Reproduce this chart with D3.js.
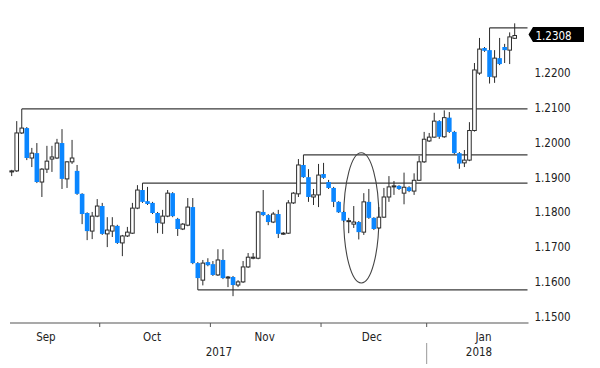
<!DOCTYPE html>
<html><head><meta charset="utf-8">
<script src="https://cdn.jsdelivr.net/npm/d3@7"></script>
<style>
html,body{margin:0;padding:0;background:#fff;}
svg{display:block;}
text{font-family:"Liberation Sans Narrow","DejaVu Sans Condensed","Liberation Sans",sans-serif;}
</style></head>
<body>
<svg id="chart" width="600" height="368"></svg>
<script>
// ---- data (EUR/USD daily candles, Sep 2017 – Jan 2018) ----
const opens = [1.1916,1.1919,1.2028,1.2042,1.1956,1.1970,1.1887,1.1924,1.1953,1.1956,
1.1999,1.1896,1.1945,1.1919,1.1853,1.1798,1.1746,1.1789,1.1818,1.1738,
1.1746,1.1761,1.1712,1.1732,1.1740,1.1812,1.1864,1.1832,1.1827,1.1798,
1.1769,1.1789,1.1855,1.1781,1.1752,1.1763,1.1815,1.1654,1.1605,1.1657,
1.1651,1.1620,1.1663,1.1611,1.1614,1.1591,1.1600,1.1643,1.1668,1.1668,
1.1801,1.1792,1.1772,1.1795,1.1738,1.1740,1.1827,1.1853,1.1936,1.1901,
1.1844,1.1850,1.1910,1.1887,1.1870,1.1830,1.1801,1.1775,1.1766,1.1772,
1.1743,1.1830,1.1784,1.1755,1.1786,1.1844,1.1873,1.1876,1.1855,1.1872,
1.1861,1.1892,1.1945,1.2005,1.2016,1.2062,1.2017,1.2072,1.2031,1.1970,
1.1942,1.1950,1.2035,1.2200,1.2272,1.2266,1.2189,1.2243,1.2275,1.2266,1.2300];
const highs = [1.1922,1.2062,1.2097,1.2045,1.1985,1.1999,1.1927,1.1991,1.1991,1.2011,
1.2039,1.1947,1.2008,1.1936,1.1855,1.1800,1.1801,1.1838,1.1827,1.1786,
1.1786,1.1764,1.1735,1.1758,1.1827,1.1878,1.1884,1.1873,1.1830,1.1801,
1.1807,1.1864,1.1858,1.1784,1.1769,1.1841,1.1841,1.1657,1.1663,1.1668,
1.1660,1.1694,1.1694,1.1617,1.1617,1.1605,1.1660,1.1683,1.1683,1.1804,
1.1864,1.1795,1.1801,1.1807,1.1743,1.1835,1.1858,1.1953,1.1965,1.1924,
1.1867,1.1939,1.1942,1.1893,1.1873,1.1832,1.1804,1.1784,1.1818,1.1775,
1.1855,1.1867,1.1786,1.1815,1.1870,1.1904,1.1890,1.1878,1.1914,1.1875,
1.1912,1.1962,1.2031,1.2028,1.2086,1.2065,1.2093,1.2088,1.2034,1.1973,
1.1979,1.2059,1.2229,1.2301,1.2275,1.2330,1.2266,1.2301,1.2284,1.2317,1.2343];
const lows = [1.1904,1.1916,1.2025,1.1950,1.1930,1.1884,1.1844,1.1913,1.1916,1.1953,
1.1867,1.1870,1.1939,1.1850,1.1766,1.1720,1.1723,1.1786,1.1735,1.1700,
1.1729,1.1709,1.1674,1.1729,1.1738,1.1809,1.1827,1.1821,1.1795,1.1740,
1.1738,1.1786,1.1786,1.1732,1.1749,1.1760,1.1651,1.1577,1.1590,1.1645,
1.1617,1.1617,1.1608,1.1585,1.1559,1.1585,1.1597,1.1640,1.1665,1.1665,
1.1789,1.1763,1.1769,1.1726,1.1735,1.1738,1.1824,1.1844,1.1899,1.1830,
1.1821,1.1815,1.1896,1.1867,1.1815,1.1798,1.1772,1.1740,1.1755,1.1722,
1.1735,1.1781,1.1749,1.1752,1.1784,1.1830,1.1850,1.1864,1.1823,1.1858,
1.1850,1.1890,1.1942,1.2002,1.2014,1.2011,1.2014,1.2028,1.1967,1.1925,
1.1930,1.1947,1.2032,1.2195,1.2261,1.2170,1.2172,1.2223,1.2229,1.2226,1.2298];
const closes = [1.1919,1.2028,1.2042,1.1956,1.1970,1.1887,1.1924,1.1947,1.1959,1.1999,
1.1896,1.1945,1.1956,1.1853,1.1795,1.1746,1.1789,1.1818,1.1738,1.1749,
1.1761,1.1712,1.1732,1.1743,1.1812,1.1864,1.1830,1.1824,1.1798,1.1769,
1.1789,1.1855,1.1789,1.1752,1.1766,1.1815,1.1654,1.1611,1.1654,1.1648,
1.1620,1.1663,1.1611,1.1614,1.1591,1.1600,1.1643,1.1671,1.1671,1.1801,
1.1792,1.1772,1.1795,1.1738,1.1740,1.1827,1.1855,1.1936,1.1901,1.1844,
1.1850,1.1907,1.1899,1.1870,1.1830,1.1800,1.1776,1.1776,1.1772,1.1743,
1.1830,1.1784,1.1752,1.1786,1.1844,1.1873,1.1876,1.1867,1.1872,1.1861,
1.1892,1.1945,1.2010,1.2016,1.2062,1.2017,1.2072,1.2031,1.1970,1.1940,
1.1950,1.2035,1.2209,1.2269,1.2264,1.2189,1.2243,1.2226,1.2266,1.2304,1.2308];

// y-axis tick values
const yTicks = [1.15,1.16,1.17,1.18,1.19,1.20,1.21,1.22];
// x-axis labels (positions in candle-index units)
const monthLabels = ["Sep","Oct","Nov","Dec","Jan"];
const monthCenters = [6.8,27.9,50.3,71.6,93.8];
const monthBoundaries = [17.5,39.5,61.5,82.5];
const yearLabels = ["2017","2018"];
const yearCenters = [41.2,92.9];
const yearBoundary = 82.5;
// horizontal support / resistance levels
const levelPrices = [1.2097,1.1965,1.1884,1.1577,1.2330];
const levelStarts = [2,58,26,37,95];
// highlighted ellipse (index / price units)
const ellipseCenter = [69.5,1.1784];
const ellipseHalf = [3.5,0.0187];

// ---- drawing ----
const svg = d3.select("#chart");
const n = closes.length;
const x = d3.scaleLinear().domain([0, n-1]).range([11.7, 514.7]);
const y = d3.scaleLinear().domain([1.15, 1.23]).range([316.7, 38.3]);
const plotRight = 527.5, axisY = 323;
const bw = 4.6;
const fs = 11.5;
const blue = "#0a86ff", dark = "#2b2b2b";
const candles = d3.range(n).map(i => ({i, o:opens[i], h:highs[i], l:lows[i], c:closes[i]}));

// levels
svg.append("g").selectAll("path").data(levelPrices).join("path")
  .attr("d", (p,k) => `M${x(levelStarts[k])},${y(p)}H${plotRight}`)
  .attr("stroke", "#3a3a3a").attr("stroke-width", 1.3).attr("fill","none");

// ellipse
svg.append("ellipse")
  .attr("cx", x(ellipseCenter[0])).attr("cy", y(ellipseCenter[1]))
  .attr("rx", x(ellipseCenter[0]+ellipseHalf[0]) - x(ellipseCenter[0]))
  .attr("ry", y(ellipseCenter[1]-ellipseHalf[1]) - y(ellipseCenter[1]))
  .attr("fill","none").attr("stroke","#444").attr("stroke-width",1.1);

// candles
const g = svg.append("g");
g.selectAll("line.wick").data(candles).join("line").attr("class","wick")
  .attr("x1", d => x(d.i)).attr("x2", d => x(d.i))
  .attr("y1", d => y(d.h)).attr("y2", d => y(d.l))
  .attr("stroke", dark).attr("stroke-width", 1);
g.selectAll("rect.down").data(candles.filter(d => d.c < d.o)).join("rect").attr("class","down")
  .attr("x", d => x(d.i) - bw/2).attr("width", bw)
  .attr("y", d => y(d.o)).attr("height", d => Math.max(1.5, y(d.c) - y(d.o)))
  .attr("fill", blue);
g.selectAll("rect.up").data(candles.filter(d => d.c >= d.o)).join("rect").attr("class","up")
  .attr("x", d => x(d.i) - bw/2 + 0.5).attr("width", bw - 1)
  .attr("y", d => y(d.c)).attr("height", d => Math.max(1, y(d.o) - y(d.c)))
  .attr("fill", "#fff").attr("stroke", dark).attr("stroke-width", 1);

// y axis (labels only)
const yAxis = d3.axisRight(y).tickValues(yTicks).tickFormat(d3.format(".4f")).tickSize(0).tickPadding(7);
const ya = svg.append("g").attr("transform", `translate(${plotRight},0)`).call(yAxis);
ya.select(".domain").remove();
ya.selectAll("text").attr("font-size", fs).attr("fill", "#222")
  .style("font-family", '"Liberation Sans Narrow","DejaVu Sans Condensed",sans-serif');

// last price label
const last = closes[n-1], ly = y(last);
svg.append("path")
  .attr("d", `M${plotRight+1},${ly-1}L${plotRight+5.5},${ly-8.5}H584V${ly+6.5}H${plotRight+5.5}Z`)
  .attr("fill", "#000");
svg.append("text").attr("x", plotRight+8).attr("y", ly).attr("dy","0.35em")
  .attr("font-size", fs).attr("fill","#fff").text(d3.format(".4f")(last));

// x axis
const xa = svg.append("g");
xa.append("line").attr("x1", 10).attr("x2", plotRight+1).attr("y1", axisY).attr("y2", axisY)
  .attr("stroke", "#555").attr("stroke-width", 1.2);
xa.selectAll("line.mt").data(monthBoundaries).join("line").attr("class","mt")
  .attr("x1", d => x(d)).attr("x2", d => x(d)).attr("y1", axisY).attr("y2", axisY+4)
  .attr("stroke", "#555");
xa.selectAll("text.m").data(monthLabels).join("text").attr("class","m")
  .attr("x", (d,k) => x(monthCenters[k])).attr("y", 337).attr("dy","0.35em")
  .attr("text-anchor","middle").attr("font-size", fs).attr("fill","#222").text(d => d);
xa.selectAll("text.yr").data(yearLabels).join("text").attr("class","yr")
  .attr("x", (d,k) => x(yearCenters[k])).attr("y", 352).attr("dy","0.35em")
  .attr("text-anchor","middle").attr("font-size", fs).attr("fill","#222").text(d => d);
xa.append("line").attr("x1", x(yearBoundary)).attr("x2", x(yearBoundary))
  .attr("y1", 343).attr("y2", 364).attr("stroke", "#999");
</script>
</body></html>
